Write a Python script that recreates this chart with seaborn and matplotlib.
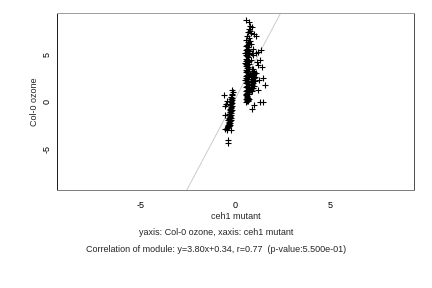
import numpy as np
import pandas as pd
import matplotlib
matplotlib.use("Agg")
import matplotlib.pyplot as plt
import seaborn as sns

# lower cluster (x ~ -0.3)
cluster_a = [
    (-0.17, 1.25), (-0.15, 1.05), (-0.20, 0.85), (-0.18, 0.65), (-0.22, 0.50),
    (-0.16, 0.40), (-0.24, 0.25), (-0.19, 0.15), (-0.21, 0.05), (-0.26, -0.05),
    (-0.18, -0.15), (-0.23, -0.25), (-0.28, -0.35), (-0.20, -0.45), (-0.25, -0.55),
    (-0.22, -0.65), (-0.30, -0.75), (-0.24, -0.85), (-0.27, -0.95), (-0.21, -1.05),
    (-0.29, -1.15), (-0.26, -1.25), (-0.32, -1.35), (-0.23, -1.45), (-0.28, -1.55),
    (-0.30, -1.65), (-0.25, -1.75), (-0.33, -1.85), (-0.27, -1.95), (-0.31, -2.05),
    (-0.35, -2.15), (-0.29, -2.25), (-0.34, -2.35), (-0.30, -2.45), (-0.36, -2.55),
    (-0.32, -2.65), (-0.38, -2.75), (-0.33, -2.30), (-0.37, -2.00), (-0.40, -2.50),
    (-0.35, -1.70), (-0.42, -2.80), (-0.39, -2.60), (-0.44, -3.05), (-0.62, 0.67),
    (-0.56, -0.50), (-0.56, -1.45), (-0.53, -2.87), (-0.26, -3.05), (-0.39, -4.04),
    (-0.39, -4.40), (-0.45, 0.10), (-0.48, -0.30), (-0.20, -0.90), (-0.24, -1.95),
]

# main upper column (x ~ 0.6)
cluster_b = [
    (0.62, 6.95), (0.70, 6.70), (0.58, 6.50), (0.66, 6.30), (0.74, 6.15),
    (0.60, 6.00), (0.55, 5.85), (0.68, 5.75), (0.63, 5.60), (0.57, 5.50),
    (0.72, 5.40), (0.60, 5.30), (0.65, 5.20), (0.53, 5.10), (0.70, 5.00),
    (0.58, 4.90), (0.62, 4.80), (0.67, 4.70), (0.55, 4.55), (0.60, 4.45),
    (0.73, 4.35), (0.57, 4.25), (0.64, 4.15), (0.52, 4.05), (0.69, 3.95),
    (0.60, 3.85), (0.56, 3.75), (0.66, 3.65), (0.62, 3.55), (0.71, 3.45),
    (0.54, 3.35), (0.63, 3.25), (0.58, 3.15), (0.67, 3.05), (0.75, 2.95),
    (0.60, 2.85), (0.55, 2.75), (0.65, 2.65), (0.70, 2.55), (0.58, 2.45),
    (0.62, 2.35), (0.53, 2.25), (0.68, 2.15), (0.61, 2.05), (0.57, 1.95),
    (0.66, 1.85), (0.72, 1.75), (0.59, 1.65), (0.54, 1.55), (0.64, 1.45),
    (0.69, 1.35), (0.60, 1.25), (0.56, 1.15), (0.67, 1.05), (0.62, 0.95),
    (0.58, 0.85), (0.71, 0.75), (0.55, 0.65), (0.63, 0.55), (0.60, 0.45),
    (0.66, 0.35), (0.57, 0.30), (0.62, 0.20), (0.68, 0.15), (0.59, 0.10),
    (0.64, 0.05), (0.55, 0.00), (0.70, 0.25), (0.61, 0.40), (0.76, 6.40),
    (0.78, 7.50), (0.72, 7.70), (0.66, 7.40), (0.58, 4.00), (0.64, 5.45),
]

# second column (x ~ 0.9)
cluster_c = [
    (0.85, 3.50), (0.95, 3.40), (0.90, 3.25), (1.00, 3.15), (0.88, 3.05),
    (0.97, 2.95), (0.83, 2.85), (0.93, 2.75), (1.02, 2.65), (0.87, 2.55),
    (0.96, 2.45), (0.82, 2.35), (0.91, 2.25), (1.05, 2.15), (0.86, 2.05),
    (0.94, 1.95), (0.80, 1.85), (0.89, 1.75), (0.99, 1.65), (0.84, 1.55),
    (0.92, 1.40), (0.81, 1.25), (0.88, 1.10), (0.95, 2.90), (1.08, 3.00),
    (0.90, 5.60), (0.86, 5.20), (0.93, 4.90), (0.80, 6.10), (0.84, 4.40),
]

# scattered points
outliers = [
    (0.58, 8.65), (0.69, 8.47), (0.79, 8.00), (0.88, 7.94), (0.83, 7.23),
    (0.97, 7.16), (1.10, 7.00), (1.21, 5.28), (1.36, 5.46), (1.06, 5.10),
    (1.32, 4.39), (1.41, 3.68), (1.46, 2.45), (1.58, 1.73), (1.18, 1.27),
    (1.32, -0.04), (1.44, -0.04), (1.00, -0.39), (0.88, -0.75), (1.20, 3.90),
    (1.25, 2.30), (1.12, 4.20),
]

fit_slope = 3.80
fit_intercept = 0.34
lim = 9.4
x_ticks = [-5, 0, 5]
y_ticks = [-5, 0, 5]

pts = cluster_a + cluster_b + cluster_c + outliers
df = pd.DataFrame(pts, columns=["ceh1", "col0"])

sns.set_style("white")
plt.rcParams["font.family"] = ["Liberation Sans", "DejaVu Sans"]
fs = 9

fig = plt.figure(figsize=(6, 4), dpi=72)
ax = fig.add_axes([0.132, 0.340, 0.826, 0.615])

ax.axline((0, fit_intercept), slope=fit_slope, color="#c8c8c8", lw=0.9, zorder=1)
sns.scatterplot(data=df, x="ceh1", y="col0", marker="+", color="black",
                s=26, linewidth=1.1, ax=ax, zorder=2)

ax.set_xlim(-lim, lim)
ax.set_ylim(-lim, lim)
ax.set_xticks(x_ticks)
ax.set_yticks(y_ticks)
ax.set_xticklabels([str(t) for t in x_ticks], fontsize=fs)
ax.set_yticklabels([str(t) for t in y_ticks], fontsize=fs, rotation=90, va="center")
ax.tick_params(direction="out", length=4, width=0.8, colors="black")
ax.tick_params(axis="x", pad=7)
ax.tick_params(axis="y", pad=1)
ax.set_xlabel("ceh1 mutant", fontsize=fs, labelpad=2)
ax.set_ylabel("Col-0 ozone", fontsize=fs, labelpad=4)

ax.spines["top"].set_color("#a0a0a0")
ax.spines["bottom"].set_color("#808080")
ax.spines["left"].set_color("#202020")
ax.spines["right"].set_color("#505050")
for s in ax.spines.values():
    s.set_linewidth(1.0)

fig.text(0.5, 0.191, "yaxis: Col-0 ozone, xaxis: ceh1 mutant", ha="center", va="center", fontsize=fs)
fig.text(0.5, 0.132, "Correlation of module: y=3.80x+0.34, r=0.77  (p-value:5.500e-01)",
         ha="center", va="center", fontsize=fs)

fig.savefig("out.png", dpi=72)
